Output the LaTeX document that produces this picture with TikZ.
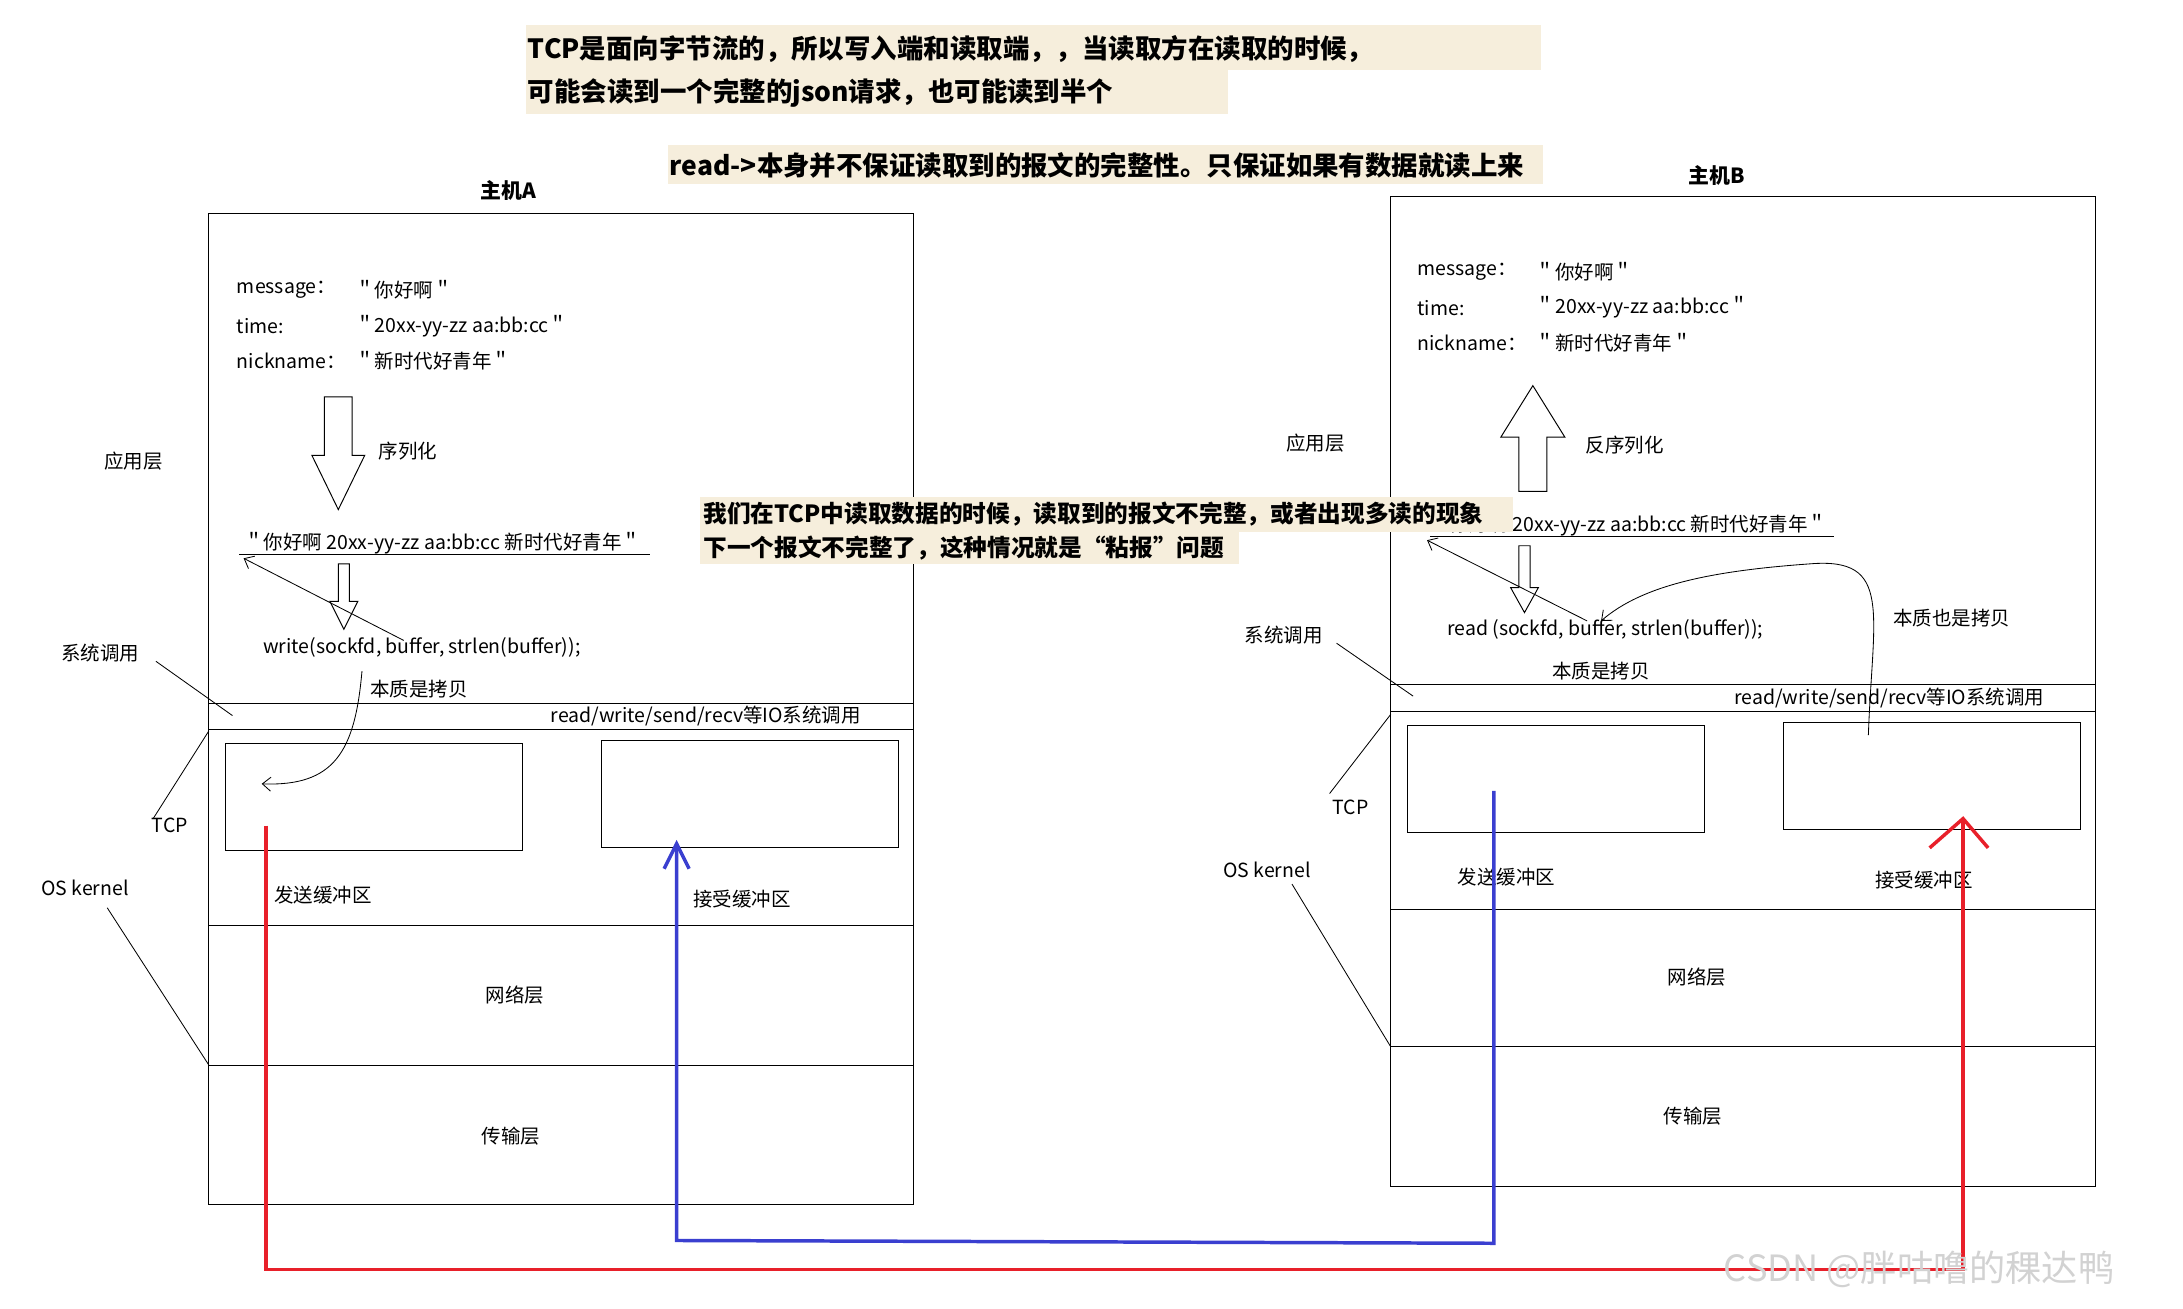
\documentclass[tikz,border=0pt]{standalone}
\usepackage{fontspec}
\setmainfont{Noto Sans CJK SC}
\usetikzlibrary{arrows.meta}
\definecolor{hl}{HTML}{F6EEDC}
\definecolor{rd}{HTML}{E8202A}
\definecolor{bl}{HTML}{3A3FD0}
\begin{document}
\begin{tikzpicture}[x=1pt,y=-1pt,
 t/.style={font=\fontsize{14}{16}\selectfont,inner sep=0pt},
 tl/.style={t,anchor=west},
 b/.style={font=\bfseries\fontsize{15}{17}\selectfont,inner sep=0pt},
 mb/.style={font=\bfseries\fontsize{17}{19}\selectfont,inner sep=0pt,anchor=west},
 hb/.style={font=\bfseries\fontsize{19}{23}\selectfont,inner sep=1pt,anchor=west},
 box/.style={draw,line width=0.7pt},
 thin/.style={line width=0.6pt},
 blk/.style={draw,fill=white,line width=0.7pt,line join=miter},
 ab/.style={-{Straight Barb[length=6pt,width=10pt]},thin},
 bigr/.style={line width=2.5pt,rd},
 bigb/.style={line width=2.5pt,bl}]
\useasboundingbox (0,0) rectangle (1568,940);
% highlights
\fill[hl] (378,18) rectangle (1107,50);
\fill[hl] (378,50) rectangle (882,82);
\fill[hl] (480,104) rectangle (1108,132);
\node[hb] (h1) at (378,35) {TCP是面向字节流的，所以写入端和读取端，，当读取方在读取的时候，};
\node[hb] (h2) at (378,67) {可能会读到一个完整的json请求，也可能读到半个};
\node[hb] (h3) at (480,119) {read->本身并不保证读取到的报文的完整性。只保证如果有数据就读上来};
\node[b] (ta) at (365,137) {主机A};
\node[b] (tb) at (1233,126) {主机B};
% host A
\draw[box] (150,153) rectangle (656,865);
\draw[box] (150,505) -- (656,505);
\draw[box] (150,524) -- (656,524);
\draw[box] (150,665) -- (656,665);
\draw[box] (150,765) -- (656,765);
\draw[box] (162,534) rectangle (375,611);
\draw[box] (432,532) rectangle (645,609);
\node[tl] (ma) at (170,208) {message：};
\node[tl] (mav) at (255,208) {＂你好啊＂};
\node[tl] (tia) at (170,234) {time:};
\node[tl] (tiav) at (255,234) {＂20xx-yy-zz aa:bb:cc＂};
\node[tl] (na) at (170,259) {nickname：};
\node[tl] (nav) at (255,259) {＂新时代好青年＂};
\draw[blk] (233,285) -- (253,285) -- (253,327) -- (262,327) -- (243,366) -- (224,327) -- (233,327) -- cycle;
\node[t] (xl) at (293,324) {序列化};
\node[t] (sA) at (318,390) {＂你好啊 20xx-yy-zz aa:bb:cc 新时代好青年＂};
\draw[thin] (172,398) -- (467,398);
\draw[blk] (243,405) -- (251,405) -- (251,432) -- (257,432) -- (247,452) -- (237,432) -- (243,432) -- cycle;
\node[t] (wA) at (303,465) {write(sockfd, buffer, strlen(buffer));};
\coordinate (wAs) at (290,460);
\coordinate (sAe) at (175,401);
\draw[ab] (wAs) -- (sAe);
\node[t] (cA) at (301,495) {本质是拷贝};
\coordinate (cAs) at (260,482);
\coordinate (cAe) at (188,563);
\draw[ab] (cAs) .. controls (255,540) and (240,565) .. (cAe);
\node[t] (yyA) at (96,331) {应用层};
\node[t] (scA) at (72,469) {系统调用};
\draw[thin] (112,475) -- (167,514);
\node[t] (tcpA) at (122,593) {TCP};
\node[t] (osA) at (61,638) {OS kernel};
\draw[thin] (150,525) -- (110,588);
\draw[thin] (77,652) -- (150,765);
\node[t] (ioA) at (507,514) {read/write/send/recv等IO系统调用};
\node[t] (sbA) at (232,643) {发送缓冲区};
\node[t] (rbA) at (533,646) {接受缓冲区};
\node[t] (nwA) at (370,715) {网络层};
\node[t] (trA) at (367,816) {传输层};
% host B
\draw[box] (999,141) rectangle (1505,852);
\draw[box] (999,492) -- (1505,492);
\draw[box] (999,511) -- (1505,511);
\draw[box] (999,653) -- (1505,653);
\draw[box] (999,752) -- (1505,752);
\draw[box] (1011,521) rectangle (1224,598);
\draw[box] (1281,519) rectangle (1494,596);
\node[tl] (mb) at (1018,195) {message：};
\node[tl] (mbv) at (1103,195) {＂你好啊＂};
\node[tl] (tib) at (1018,221) {time:};
\node[tl] (tibv) at (1103,221) {＂20xx-yy-zz aa:bb:cc＂};
\node[tl] (nb) at (1018,246) {nickname：};
\node[tl] (nbv) at (1103,246) {＂新时代好青年＂};
\draw[blk] (1091,353) -- (1111,353) -- (1111,314) -- (1124,314) -- (1101,277) -- (1078,314) -- (1091,314) -- cycle;
\node[t] (fxl) at (1167,320) {反序列化};
\node[t] (yyB) at (945,318) {应用层};
\node[t] (sB) at (1170,377) {＂你好啊 20xx-yy-zz aa:bb:cc 新时代好青年＂};
\draw[thin] (1027,385) -- (1317,385);
% middle highlight
\fill[hl] (503,357) rectangle (1087,382);
\fill[hl] (503,382) rectangle (890,405);
\node[mb] (m1) at (505,369) {我们在TCP中读取数据的时候，读取到的报文不完整，或者出现多读的现象};
\node[mb] (m2) at (505,394) {下一个报文不完整了，这种情况就是“粘报”问题};
\draw[blk] (1091,392) -- (1099,392) -- (1099,422) -- (1105,422) -- (1095,440) -- (1085,422) -- (1091,422) -- cycle;
\node[t] (rB) at (1153,452) {read (sockfd, buffer, strlen(buffer));};
\coordinate (rBs) at (1140,446);
\coordinate (sBe) at (1025,388);
\draw[ab] (rBs) -- (sBe);
\node[t] (cB) at (1150,482) {本质是拷贝};
\coordinate (cBs) at (1342,528);
\coordinate (cBe) at (1150,446);
\draw[ab] (cBs) .. controls (1345,440) and (1360,400) .. (1300,405) .. controls (1230,410) and (1180,420) .. (cBe);
\node[t] (cB2) at (1402,444) {本质也是拷贝};
\node[t] (scB) at (922,456) {系统调用};
\draw[thin] (960,462) -- (1015,500);
\node[t] (tcpB) at (970,580) {TCP};
\node[t] (osB) at (910,625) {OS kernel};
\draw[thin] (999,513) -- (955,570);
\draw[thin] (928,635) -- (999,752);
\node[t] (ioB) at (1357,501) {read/write/send/recv等IO系统调用};
\node[t] (sbB) at (1082,630) {发送缓冲区};
\node[t] (rbB) at (1382,632) {接受缓冲区};
\node[t] (nwB) at (1219,702) {网络层};
\node[t] (trB) at (1216,802) {传输层};
% red / blue paths
\coordinate (r0) at (191,593);
\coordinate (r3) at (1410,588);
\draw[bigr] (r0) -- (191,912) -- (1410,912) -- (r3);
\draw[bigr] (1386,609) -- (r3) -- (1428,609);
\coordinate (b0) at (1073,568);
\coordinate (b3) at (486,606);
\draw[bigb] (b0) -- (1073,893) -- (486,891) -- (b3);
\draw[bigb] (477,624) -- (b3) -- (495,624);
\node[font=\fontsize{26}{28}\selectfont,text=gray!35,inner sep=0pt,anchor=west] (wm) at (1238,912) {CSDN @胖咕噜的稞达鸭};
\end{tikzpicture}
\end{document}
